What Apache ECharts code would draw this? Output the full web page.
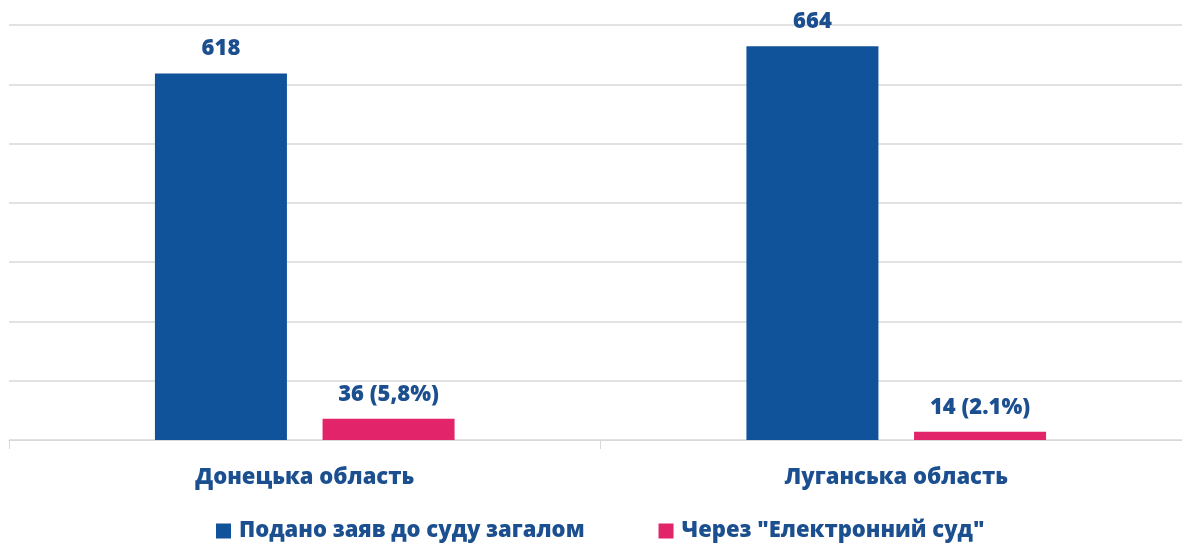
<!DOCTYPE html>
<html><head><meta charset="utf-8">
<script src="https://cdn.jsdelivr.net/npm/echarts@6/dist/echarts.min.js"></script>
<style>html,body{margin:0;padding:0;background:#fff}#c{width:1182px;height:544px}</style>
</head><body><div id="c"></div>
<script>
const categories = ['Донецька область', 'Луганська область'];
const seriesNames = ['Подано заяв до суду загалом', 'Через "Електронний суд"'];
const totalValues = [618, 664];
const eCourtValues = [36, 14];
const eCourtLabels = ['36 (5,8%)', '14 (2.1%)'];

const font = '"Open Sans", "Noto Sans", sans-serif';
const textColor = '#1B4F8F';
const fw = 800;
const fs = 22;
const chart = echarts.init(document.getElementById('c'));
chart.setOption({
  animation: false,
  textStyle: { fontFamily: font },
  grid: { left: 9, right: -10, top: 25, bottom: 104, containLabel: false, outerBoundsMode: 'none' },
  xAxis: {
    type: 'category', data: categories,
    axisLine: { lineStyle: { color: '#d9d9d9', width: 1 } },
    axisTick: { show: true, length: 9, lineStyle: { color: '#d9d9d9' } },
    axisLabel: { color: textColor, fontSize: fs, fontWeight: fw, margin: 27, fontFamily: font }
  },
  yAxis: {
    type: 'value', min: 0, max: 700, interval: 100,
    axisLabel: { show: false }, axisLine: { show: false }, axisTick: { show: false },
    splitLine: { lineStyle: { color: '#d9d9d9', width: 1.5 } }
  },
  legend: {
    top: 520, left: 216, padding: 0, icon: 'rect', itemWidth: 15, itemHeight: 15, itemGap: 74,
    textStyle: { color: textColor, fontSize: fs, fontWeight: fw, fontFamily: font, padding: [0, 0, 0, 3] },
    data: seriesNames
  },
  series: [
    {
      name: seriesNames[0], type: 'bar', data: totalValues,
      barWidth: 132, barGap: '27%',
      itemStyle: { color: '#11539A' },
      label: { show: true, position: 'top', distance: 14, color: textColor, fontSize: fs, fontWeight: fw, fontFamily: font }
    },
    {
      name: seriesNames[1], type: 'bar', data: eCourtValues,
      barWidth: 132,
      itemStyle: { color: '#E2246A' },
      label: { show: true, position: 'top', distance: 13, color: textColor, fontSize: fs, fontWeight: fw, fontFamily: font,
        formatter: p => eCourtLabels[p.dataIndex] }
    }
  ]
});
</script></body></html>
